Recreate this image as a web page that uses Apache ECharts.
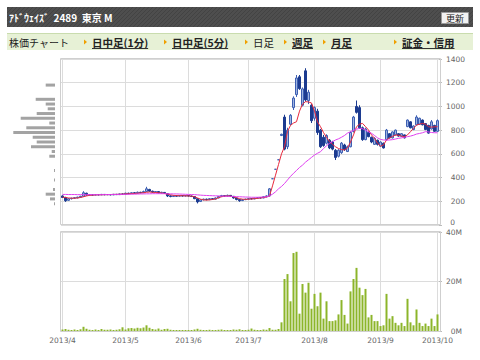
<!DOCTYPE html>
<html>
<head>
<meta charset="utf-8">
<script src="https://cdn.jsdelivr.net/npm/echarts@6/dist/echarts.min.js"></script>
<style>
html,body{margin:0;padding:0;background:#fff;}
#chart{width:480px;height:360px;}
</style>
</head>
<body>
<div id="chart"></div>
<script>
// ---------- data ----------
const aprDays = [1,2,3,4,5,8,9,10,11,12,15,16,17,18,19,22,23,24,25,26,30];
const mayDays = [1,2,7,8,9,10,13,14,15,16,17,20,21,22,23,24,27,28,29,30,31];
const junDays = [3,4,5,6,7,10,11,12,13,14,17,18,19,20,21,24,25,26,27,28];
const julDays = [1,2,3,4,5,8,9,10,11,12,16,17,18,19,22,23,24,25,26,29,30,31];
const augDays = [1,2,5,6,7,8,9,12,13,14,15,16,19,20,21,22,23,26,27,28,29,30];
const sepDays = [2,3,4,5,6,9,10,11,12,13,17,18,19,20,24,25,26,27,30];
const octDays = [1];

const opens = [245,232,208,222,226,229,234,242,268,252,255,252,256,254,258,255,257,254,259,256,262,
 259,268,265,272,268,276,272,282,300,285,278,282,272,275,265,246,240,246,243,248,244,
 248,244,240,222,198,212,218,214,222,218,228,240,248,244,250,242,228,215,206,214,
 218,222,220,226,230,228,238,245,390,470,550,755,910,660,850,990,1100,1250,1010,1300,1050,1010,
 900,960,800,740,690,715,700,630,580,610,675,620,660,790,1000,990,820,720,780,740,680,715,
 665,690,720,770,735,760,770,748,760,830,870,805,845,850,885,855,840,810,840,
 790];
const closes = [232,205,222,226,230,235,242,272,252,256,252,257,254,258,255,257,254,259,256,262,259,
 268,265,272,268,276,272,282,305,285,278,282,272,276,266,245,240,246,243,248,244,248,
 244,240,222,195,212,218,214,222,218,228,240,248,244,250,242,228,215,205,214,218,
 222,220,226,230,228,238,245,305,390,470,550,765,640,800,925,1070,1240,1150,1148,1055,1120,880,
 990,780,660,670,755,650,640,570,630,690,635,660,780,910,950,820,720,810,745,700,730,680,
 700,650,800,735,785,800,750,770,735,885,820,835,910,900,845,805,775,870,790,
 880];
const lows = [228,195,205,215,220,225,230,240,248,248,248,250,250,252,251,252,250,252,253,254,255,
 257,260,262,264,266,268,270,278,280,272,274,268,266,262,236,234,238,240,240,240,241,
 240,236,218,182,195,208,208,210,212,215,226,236,238,240,236,222,208,196,202,210,
 214,216,218,222,224,226,234,240,390,470,550,750,630,640,840,970,1080,1140,1000,1040,1020,860,
 880,760,650,660,680,640,630,548,570,600,625,615,655,780,940,810,710,715,740,690,675,670,
 660,645,715,730,730,755,745,745,730,825,815,800,840,845,840,800,770,805,785,
 785];
const highs = [250,238,226,230,234,238,246,285,272,260,258,260,260,262,260,260,260,262,262,265,266,
 272,272,276,278,282,280,290,322,305,290,286,285,280,278,266,250,250,250,252,252,252,
 250,248,242,224,216,222,222,226,226,232,245,254,252,256,252,244,230,218,218,222,
 226,226,230,234,234,242,250,312,390,470,550,770,930,820,935,1085,1265,1265,1160,1322,1140,1020,
 1000,980,810,760,765,725,710,640,640,700,685,670,790,920,1050,1010,830,820,790,745,740,720,
 705,695,810,775,790,805,775,775,762,890,875,840,925,905,890,860,845,885,845,
 890];
const maShort = [236,232,228,226,226,228,232,238,245,250,252,254,255,255,256,256,257,258,258,259,260,
 262,263,265,266,268,270,272,276,278,276,274,272,270,266,260,255,250,248,247,247,246,
 245,244,238,228,218,212,210,212,215,220,230,238,243,245,244,238,230,222,218,216,
 218,220,222,225,228,232,236,245,330,420,510,600,660,790,840,860,871,960,1020,1040,1038,1029,
 960,870,829,780,740,703,680,660,645,636,633,650,700,760,829,850,857,830,801,760,731,690,
 665,675,717,735,748,759,757,750,745,760,787,815,843,850,857,850,829,825,828,
 829];
const maLong = [258,258,257,257,257,256,256,256,256,256,256,256,256,256,257,257,257,257,257,258,258,
 258,259,260,260,261,262,262,263,263,264,264,264,264,264,263,263,262,262,261,260,259,
 258,257,256,254,252,250,249,248,247,246,245,244,243,242,241,240,239,238,237,236,
 235,234,234,234,235,236,238,246,260,280,305,325,350,380,410,436,460,485,505,530,550,570,
 590,605,618,645,668,689,703,717,727,740,755,775,787,798,808,815,812,800,786,773,755,735,
 722,717,716,717,720,725,731,735,740,745,750,757,767,772,778,787,785,780,778,
 778];
// volume in millions of shares
const volumeM = [0.6,0.8,0.5,0.4,0.6,0.4,0.7,1.7,0.9,0.5,0.4,0.6,0.4,0.8,0.5,0.5,0.6,0.4,0.5,0.7,1.5,
 0.6,1.1,1.2,1.0,1.3,1.1,1.4,2.3,1.3,0.8,0.6,1.0,0.5,0.8,0.9,0.5,0.4,0.3,0.3,0.4,0.3,
 0.3,0.4,0.6,0.9,0.5,0.4,0.3,0.5,0.3,0.4,0.5,0.6,0.4,0.3,0.4,0.6,0.5,0.7,0.4,0.3,
 0.5,1.0,0.5,0.4,0.3,0.6,0.5,1.2,0.5,0.5,0.8,3.5,21,23,12,31.5,32,7,19,15.5,19.5,9,
 15,10,15.5,5,12,4,4,4.3,6.7,12.5,6.5,3,16,21,25.5,17.5,14.5,17,5.5,6.5,4,4,
 2,2.3,15,5,6,3.3,2.3,3.3,2,13,3.5,2.3,8.7,3.3,2,3,2,5,2,
 6.7];
// volume-by-price profile (40-yen bins, lower bound of each bin)
const profileBins = [0,40,80,120,160,200,240,280,320,360,400,440,480,520,560,600,640,680,720,760,800,840,880,920,960,1000,1040,1080,1120,1160,1200,1240,1280,1320,1360];
const profileVolume = [0,0,0,0,1,5,9.3,2,0,1,0,1,0,0,5.7,3.3,24,18.3,22.3,41.7,28.7,5.7,34.3,18.3,7.3,9.3,19.3,0,0,9.3,0,0,0,0,0];
const priceTicks = [0,200,400,600,800,1000,1200,1400];
const volumeTicks = [0,20,40];

const titleText = 'ｱﾄﾞｳｪｲｽﾞ  2489  東京 M';
const buttonText = '更新';
const navLabel = '株価チャート';
const navItems = ['日中足(1分)','日中足(5分)','日足','週足','月足','証金・信用'];

// ---------- build ----------
const dates = [].concat(
  aprDays.map(d => '2013/4/' + d), mayDays.map(d => '2013/5/' + d),
  junDays.map(d => '2013/6/' + d), julDays.map(d => '2013/7/' + d),
  augDays.map(d => '2013/8/' + d), sepDays.map(d => '2013/9/' + d),
  octDays.map(d => '2013/10/' + d));
const monthOf = s => s.split('/').slice(0, 2).join('/');
const isMonthStart = idx => idx === 0 || monthOf(dates[idx]) !== monthOf(dates[idx - 1]);
const candles = dates.map((d, i) => [opens[i], closes[i], lows[i], highs[i]]);

const measure = (() => {
  const ctx = document.createElement('canvas').getContext('2d');
  return (t, font) => { ctx.font = font; return ctx.measureText(t).width; };
})();

// striped fill for the title bar
const stripe = (() => {
  const c = document.createElement('canvas');
  c.width = 4; c.height = 4;
  const g = c.getContext('2d');
  g.fillStyle = '#4e4e4e'; g.fillRect(0, 0, 4, 4);
  g.fillStyle = '#434343';
  for (let k = 0; k < 4; k++) g.fillRect(k, 3 - k, 1, 1);
  return c.toDataURL();
})();

const AX_FONT = 'DejaVu Sans';
const JP = '"Noto Sans CJK JP", sans-serif';
const gridColor = '#dcdcdc';

// nav layout
const navX = [92, 172, 253, 292, 331, 402];
const navBold = [true, true, false, true, true, true];
const graphics = [
  { type: 'rect', shape: { x: 7, y: 7, width: 466, height: 20 }, style: { fill: '#4b4b4b' }, z: 0 },
  { type: 'rect', shape: { x: 7, y: 7, width: 466, height: 20 }, style: { fill: { image: stripe, repeat: 'repeat' } }, z: 0 },
  { type: 'text', x: 9, y: 17, style: { text: titleText, fill: '#ffffff', font: 'bold 10px ' + JP, textVerticalAlign: 'middle' }, z: 1 },
  { type: 'rect', shape: { x: 441.5, y: 12.5, width: 27, height: 11 }, style: { fill: '#f2f2f2', stroke: '#9a9a9a', lineWidth: 1 }, z: 1 },
  { type: 'text', x: 455, y: 18, style: { text: buttonText, fill: '#222', font: '9px ' + JP, textAlign: 'center', textVerticalAlign: 'middle' }, z: 2 },
  { type: 'rect', shape: { x: 7, y: 33, width: 466, height: 17 }, style: { fill: '#e7f1d6' }, z: 0 },
  { type: 'line', shape: { x1: 7, y1: 33.5, x2: 473, y2: 33.5 }, style: { stroke: '#c9dcae', lineWidth: 1 }, z: 1 },
  { type: 'text', x: 9, y: 42, style: { text: navLabel, fill: '#222', font: '10px ' + JP, textVerticalAlign: 'middle' }, z: 1 },
  // chart frames
  { type: 'rect', shape: { x: 60.5, y: 58.5, width: 380, height: 166 }, style: { fill: 'none', stroke: '#cfcfcf', lineWidth: 1 }, z: 50 },
  { type: 'rect', shape: { x: 60.5, y: 231.5, width: 380, height: 100 }, style: { fill: 'none', stroke: '#cfcfcf', lineWidth: 1 }, z: 50 }
];
navItems.forEach((t, k) => {
  const x = navX[k];
  const font = (navBold[k] ? 'bold ' : '') + '10.5px ' + JP;
  graphics.push({ type: 'polygon', shape: { points: [[x - 8, 39.5], [x - 5, 42], [x - 8, 44.5]] }, style: { fill: '#f0a000' }, z: 1 });
  graphics.push({ type: 'text', x: x, y: 42, style: { text: t, fill: '#222', font: font, textVerticalAlign: 'middle' }, z: 1 });
  if (navBold[k]) {
    const w = measure(t, font);
    graphics.push({ type: 'rect', shape: { x: x, y: 48, width: w, height: 1 }, style: { fill: '#333' }, z: 1 });
  }
});

const chart = echarts.init(document.getElementById('chart'), null, { renderer: 'svg', width: 480, height: 360 });
const axLabel = { fontFamily: AX_FONT, fontSize: 7.5, color: '#666' };

chart.setOption({
  animation: false,
  backgroundColor: '#fff',
  graphic: graphics,
  grid: [
    { left: 61, width: 378, top: 59, height: 166 },
    { left: 61, width: 378, top: 232, height: 99 },
    { left: 10, width: 45, top: 59, height: 166 }
  ],
  xAxis: [
    { type: 'category', gridIndex: 0, data: dates, boundaryGap: true,
      axisLine: { show: false }, axisTick: { show: false }, axisLabel: { show: false },
      splitLine: { show: true, alignWithLabel: true, interval: (i) => isMonthStart(i), lineStyle: { color: gridColor, width: 1 } } },
    { type: 'category', gridIndex: 1, data: dates, boundaryGap: true,
      axisLine: { show: false }, axisTick: { show: false },
      axisLabel: Object.assign({ show: true, margin: 5, interval: (i) => isMonthStart(i), formatter: (v) => monthOf(v), hideOverlap: false }, axLabel),
      splitLine: { show: true, alignWithLabel: true, interval: (i) => isMonthStart(i), lineStyle: { color: gridColor, width: 1 } } },
    { type: 'value', gridIndex: 2, inverse: true, min: 0, max: 45, show: false }
  ],
  yAxis: [
    { type: 'value', gridIndex: 0, position: 'right', min: priceTicks[0], max: priceTicks[priceTicks.length - 1], interval: 200,
      axisLine: { show: false }, axisTick: { show: true, length: 3, lineStyle: { color: '#bbb' } },
      axisLabel: Object.assign({ align: 'right', margin: 26, showMinLabel: true, showMaxLabel: true,
        formatter: (v) => v === 0 ? '{z|0}' : String(v),
        rich: { z: { fontFamily: AX_FONT, fontSize: 7.5, color: '#666', padding: [0, 10, 5, 0] } } }, axLabel),
      splitLine: { show: true, lineStyle: { color: gridColor, width: 1 } } },
    { type: 'value', gridIndex: 1, position: 'right', min: volumeTicks[0], max: volumeTicks[volumeTicks.length - 1], interval: 20,
      axisLine: { show: false }, axisTick: { show: true, length: 3, lineStyle: { color: '#bbb' } },
      axisLabel: Object.assign({ align: 'right', margin: 23, showMinLabel: true, showMaxLabel: true, formatter: (v) => v + 'M' }, axLabel),
      splitLine: { show: true, lineStyle: { color: gridColor, width: 1 } } },
    { type: 'category', gridIndex: 2, data: profileBins, boundaryGap: true, show: false }
  ],
  series: [
    { name: 'price', type: 'candlestick', xAxisIndex: 0, yAxisIndex: 0, data: candles, barWidth: 2,
      itemStyle: { color: '#9fb4df', color0: '#1c3b90', borderColor: '#3d5fb3', borderColor0: '#1c3b90', borderWidth: 1 }, z: 3 },
    { name: 'MA short', type: 'line', xAxisIndex: 0, yAxisIndex: 0, data: maShort, symbol: 'none', smooth: false,
      lineStyle: { color: '#e8283c', width: 1 }, z: 4 },
    { name: 'MA long', type: 'line', xAxisIndex: 0, yAxisIndex: 0, data: maLong, symbol: 'none', smooth: false,
      lineStyle: { color: '#e040f0', width: 1 }, z: 4 },
    { name: 'volume', type: 'bar', xAxisIndex: 1, yAxisIndex: 1, data: volumeM, barWidth: 2, barMinHeight: 1,
      itemStyle: { color: '#8cb52a' } },
    { name: 'profile', type: 'bar', xAxisIndex: 2, yAxisIndex: 2, data: profileVolume, barWidth: 3,
      itemStyle: { color: '#a3a3a3' } }
  ]
});
</script>
</body>
</html>
